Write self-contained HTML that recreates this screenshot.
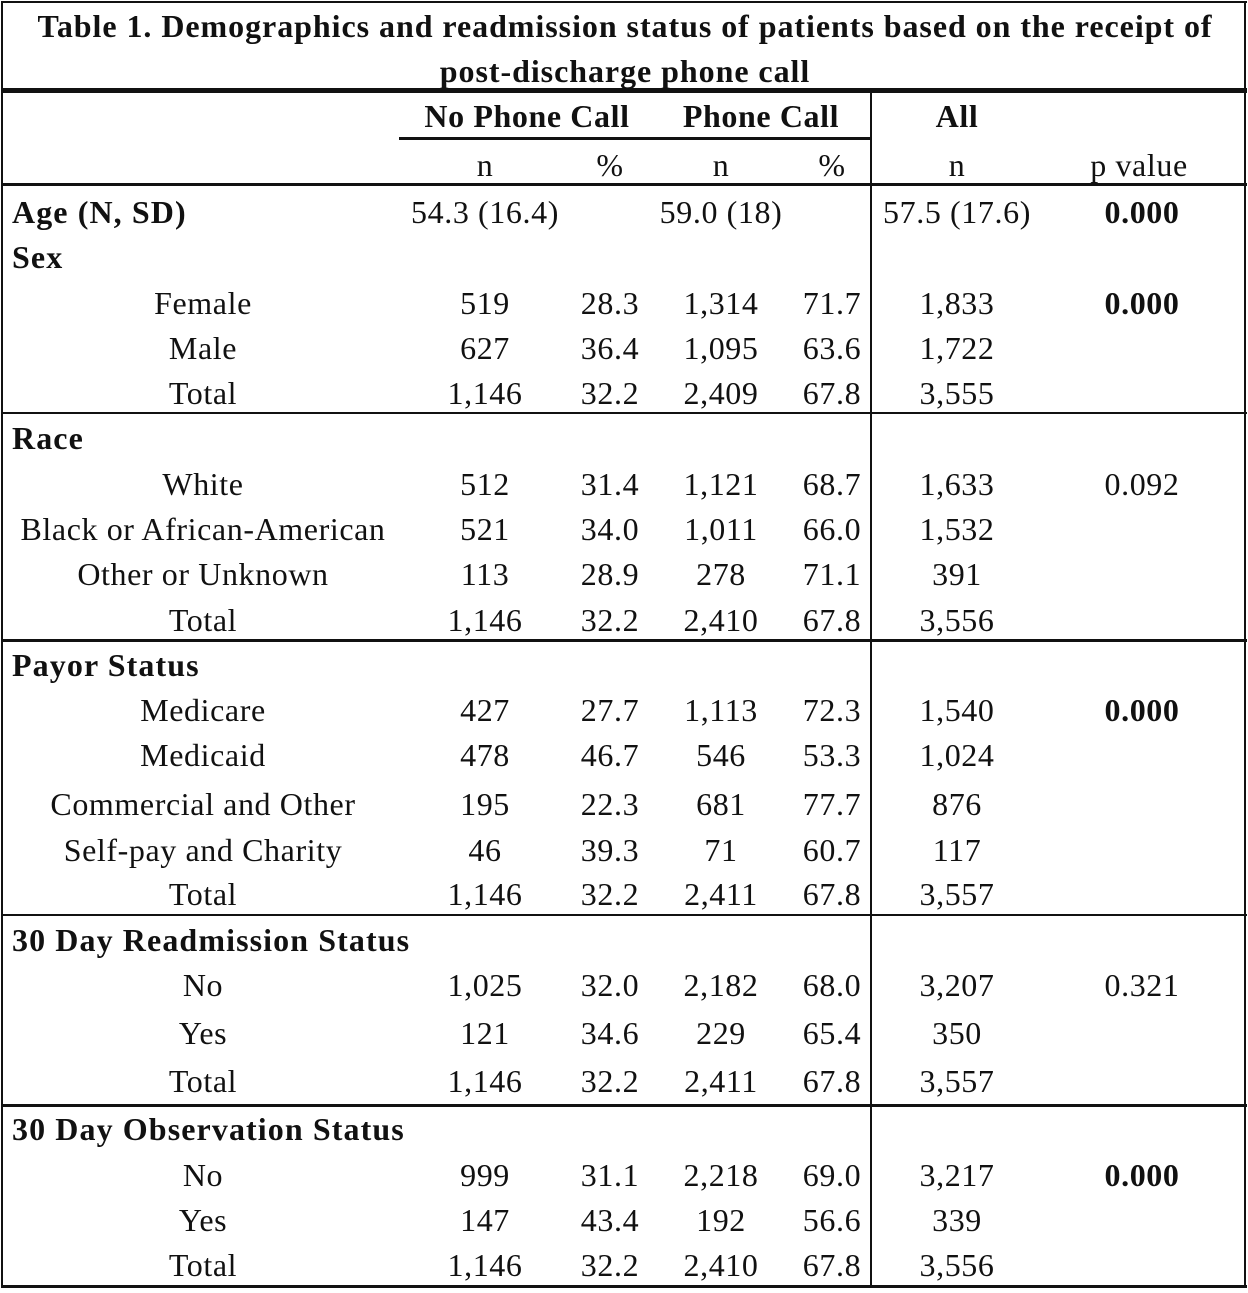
<!DOCTYPE html>
<html><head><meta charset="utf-8"><style>
body{margin:0;background:#fff;}
#t{position:relative;width:1248px;height:1293px;overflow:hidden;font-family:"Liberation Serif",serif;font-size:32px;letter-spacing:0.6px;color:#111;}
.c{position:absolute;white-space:nowrap;transform:translate(-50%,-50%);line-height:1;}
.l{position:absolute;white-space:nowrap;transform:translateY(-50%);line-height:1;}
.b{font-weight:bold;}
.l.b{letter-spacing:1.1px;}
.tt{letter-spacing:0.95px;}
.h{position:absolute;background:#111;}
</style></head><body>
<div id="t">
<div class="h" style="left:1px;top:1px;width:1246px;height:2px"></div>
<div class="h" style="left:1px;top:1px;width:2px;height:1287px"></div>
<div class="h" style="left:1244px;top:1px;width:2px;height:1287px"></div>
<div class="h" style="left:1px;top:1285px;width:1246px;height:3px"></div>
<div class="h" style="left:1px;top:88px;width:1246px;height:5px"></div>
<div class="h" style="left:399px;top:137px;width:472px;height:3px"></div>
<div class="h" style="left:1px;top:183px;width:1246px;height:3px"></div>
<div class="h" style="left:870px;top:92px;width:2px;height:1195px"></div>
<div class="h" style="left:1px;top:412px;width:1246px;height:2px"></div>
<div class="h" style="left:1px;top:639px;width:1246px;height:3px"></div>
<div class="h" style="left:1px;top:914px;width:1246px;height:2px"></div>
<div class="h" style="left:1px;top:1104px;width:1246px;height:3px"></div>
<div class="c b tt" style="left:625px;top:26px">Table 1. Demographics and readmission status of patients based on the receipt of</div>
<div class="c b tt" style="left:625px;top:71px">post-discharge phone call</div>
<div class="c b" style="left:527px;top:116px">No Phone Call</div>
<div class="c b" style="left:761px;top:116px">Phone Call</div>
<div class="c b" style="left:957px;top:116px">All</div>
<div class="c" style="left:485px;top:165px">n</div>
<div class="c" style="left:610px;top:165px">%</div>
<div class="c" style="left:721px;top:165px">n</div>
<div class="c" style="left:832px;top:165px">%</div>
<div class="c" style="left:957px;top:165px">n</div>
<div class="c" style="left:1139px;top:165px">p value</div>
</div>
<script>
const rows=[
["H","Age (N, SD)","54.3 (16.4)","","59.0 (18)","","57.5 (17.6)","0.000",1,212],
["H","Sex","","","","","","",0,257],
["R","Female","519","28.3","1,314","71.7","1,833","0.000",1,303],
["R","Male","627","36.4","1,095","63.6","1,722","",0,348],
["R","Total","1,146","32.2","2,409","67.8","3,555","",0,393],
["H","Race","","","","","","",0,438],
["R","White","512","31.4","1,121","68.7","1,633","0.092",0,484],
["R","Black or African-American","521","34.0","1,011","66.0","1,532","",0,529],
["R","Other or Unknown","113","28.9","278","71.1","391","",0,574],
["R","Total","1,146","32.2","2,410","67.8","3,556","",0,620],
["H","Payor Status","","","","","","",0,665],
["R","Medicare","427","27.7","1,113","72.3","1,540","0.000",1,710],
["R","Medicaid","478","46.7","546","53.3","1,024","",0,755],
["R","Commercial and Other","195","22.3","681","77.7","876","",0,804],
["R","Self-pay and Charity","46","39.3","71","60.7","117","",0,850],
["R","Total","1,146","32.2","2,411","67.8","3,557","",0,894],
["H","30 Day Readmission Status","","","","","","",0,940],
["R","No","1,025","32.0","2,182","68.0","3,207","0.321",0,985],
["R","Yes","121","34.6","229","65.4","350","",0,1033],
["R","Total","1,146","32.2","2,411","67.8","3,557","",0,1081],
["H","30 Day Observation Status","","","","","","",0,1129],
["R","No","999","31.1","2,218","69.0","3,217","0.000",1,1175],
["R","Yes","147","43.4","192","56.6","339","",0,1220],
["R","Total","1,146","32.2","2,410","67.8","3,556","",0,1265]
];
const t=document.getElementById('t');
const xs=[485,610,721,832,957,1142];
rows.forEach((r,i)=>{
  const lab=document.createElement('div');
  if(r[0]==="H"){lab.className='l b';lab.style.left='12px';}
  else{lab.className='c';lab.style.left='203px';}
  lab.style.top=r[9]+'px';lab.textContent=r[1];
  
  
  t.appendChild(lab);
  for(let k=0;k<6;k++){
    const v=r[2+k];if(!v)continue;
    const d=document.createElement('div');
    d.className='c'+(k===5&&r[8]?' b':'');
    d.style.left=xs[k]+'px';d.style.top=r[9]+'px';d.textContent=v;
    
    
    t.appendChild(d);
  }
});
</script>
</body></html>
